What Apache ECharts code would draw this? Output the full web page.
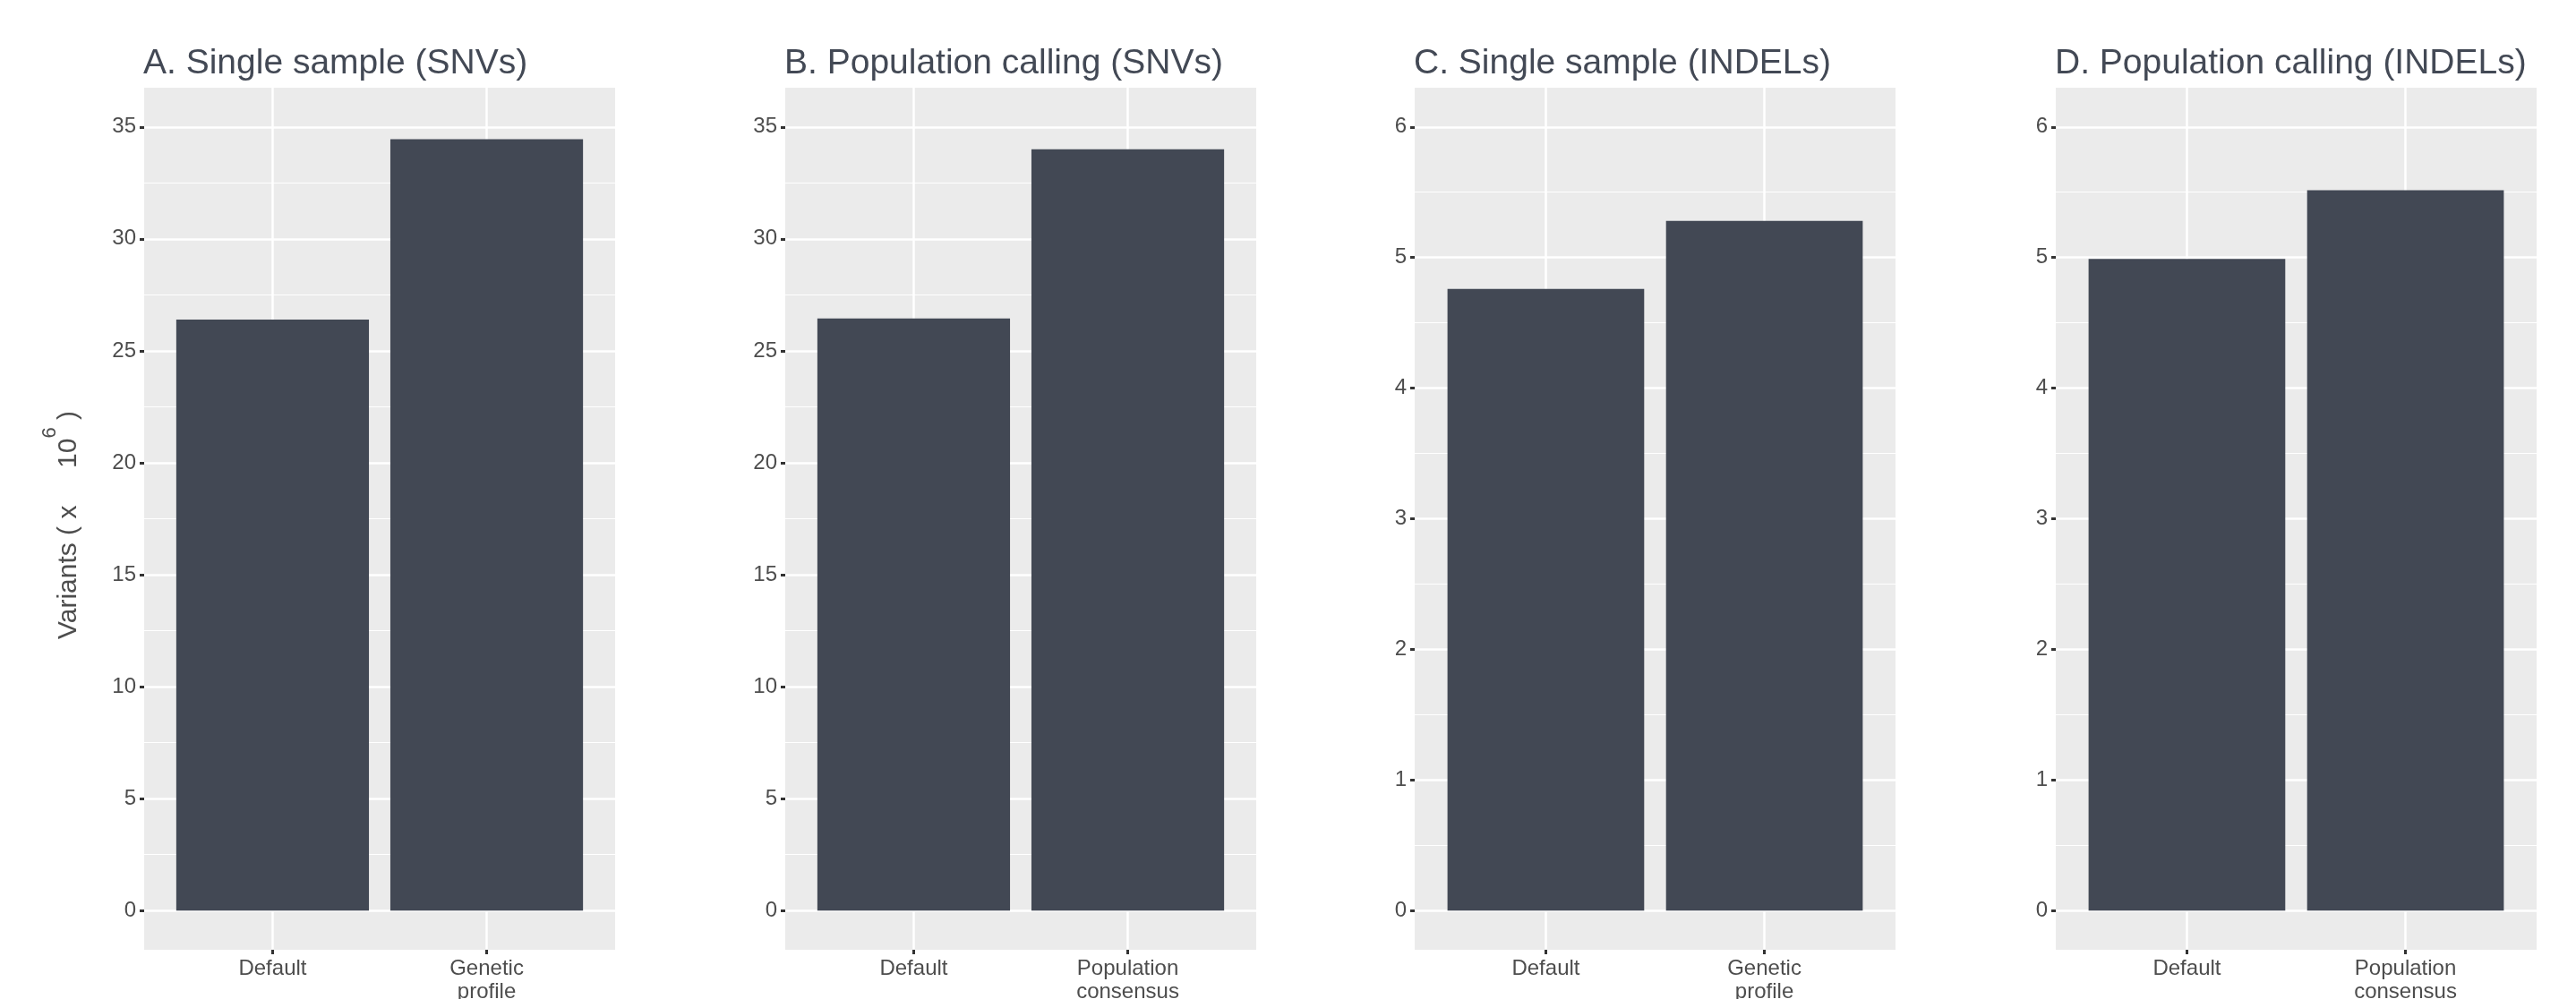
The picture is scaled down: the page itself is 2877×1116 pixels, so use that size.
<!DOCTYPE html>
<html>
<head>
<meta charset="utf-8">
<script src="https://cdn.jsdelivr.net/npm/echarts@6/dist/echarts.min.js"></script>
<style>
html, body { margin: 0; padding: 0; background: #fff; }
#chart { width: 2877px; height: 1116px; }
</style>
</head>
<body>
<div id="chart"></div>
<script>
var panelTitles = ['A. Single sample (SNVs)', 'B. Population calling (SNVs)',
                   'C. Single sample (INDELs)', 'D. Population calling (INDELs)'];
var categoriesA = ['Default', 'Genetic\nprofile'];
var categoriesB = ['Default', 'Population\nconsensus'];
var categoriesC = ['Default', 'Genetic\nprofile'];
var categoriesD = ['Default', 'Population\nconsensus'];

// variants, in millions
var valuesA = [26.4, 34.45];
var valuesB = [26.45, 34.0];
var valuesC = [4.76, 5.28];
var valuesD = [4.99, 5.515];

var snvTicks = [0, 5, 10, 15, 20, 25, 30, 35];
var snvMinorTicks = [2.5, 7.5, 12.5, 17.5, 22.5, 27.5, 32.5];
var indelTicks = [0, 1, 2, 3, 4, 5, 6];
var indelMinorTicks = [0.5, 1.5, 2.5, 3.5, 4.5, 5.5];

var font = '"Liberation Sans", Arial, Helvetica, sans-serif';
var barColor = '#424854';
var textColor = '#4D4D4D';

var panels = [
    {cats: categoriesA, values: valuesA, ticks: snvTicks, minor: snvMinorTicks, limit: 35, left: 161, width: 526},
    {cats: categoriesB, values: valuesB, ticks: snvTicks, minor: snvMinorTicks, limit: 35, left: 877, width: 526},
    {cats: categoriesC, values: valuesC, ticks: indelTicks, minor: indelMinorTicks, limit: 6, left: 1580, width: 537},
    {cats: categoriesD, values: valuesD, ticks: indelTicks, minor: indelMinorTicks, limit: 6, left: 2296, width: 537}
];
var plotTop = 98, plotHeight = 963;

var option = {
    animation: false,
    backgroundColor: '#fff',
    title: [], grid: [], xAxis: [], yAxis: [], series: []
};

panels.forEach(function(p, i) {
    option.title.push({
        text: panelTitles[i],
        left: p.left - 1,
        top: 52,
        padding: 0,
        textStyle: {fontFamily: font, fontSize: 39, fontWeight: 'normal', color: '#434955'}
    });
    option.grid.push({
        left: p.left, top: plotTop, width: p.width, height: plotHeight,
        show: true, backgroundColor: '#EBEBEB', borderWidth: 0,
        containLabel: false, outerBoundsMode: 'none'
    });

    var pos = p.cats.map(function(c, k) { return k + 1; });
    option.xAxis.push({
        type: 'value', gridIndex: i, min: 0.4, max: p.cats.length + 0.6,
        axisLine: {show: false, onZero: false},
        axisTick: {show: true, customValues: pos, length: 5, lineStyle: {color: '#333', width: 3}},
        axisLabel: {
            customValues: pos, margin: 8, fontSize: 24, lineHeight: 26,
            color: textColor, fontFamily: font,
            formatter: function(v) { return p.cats[Math.round(v) - 1]; }
        },
        splitLine: {show: true, lineStyle: {color: '#fff', width: 2.5}}
    });

    var pad = p.limit * 0.05;
    var yMain = {
        type: 'value', gridIndex: i, min: -pad, max: p.limit + pad,
        axisLine: {show: false, onZero: false},
        axisTick: {show: true, customValues: p.ticks, length: 5, lineStyle: {color: '#333', width: 3}},
        axisLabel: {customValues: p.ticks, margin: 9, fontSize: 24, color: textColor, fontFamily: font},
        splitLine: {show: true, lineStyle: {color: '#fff', width: 2.5}}
    };
    if (i === 0) {
        yMain.name = 'Variants ( x     10{sup|6} )';
        yMain.nameLocation = 'middle';
        yMain.nameRotate = 90;
        yMain.nameGap = 52;
        yMain.nameTextStyle = {
            fontFamily: font, fontSize: 30, lineHeight: 64, color: textColor,
            padding: [0, 14, 0, 0],
            rich: {sup: {fontFamily: font, fontSize: 22, lineHeight: 22, verticalAlign: 'top', color: textColor}}
        };
    }
    option.yAxis.push(yMain);
    // minor grid lines
    option.yAxis.push({
        type: 'value', gridIndex: i, min: -pad, max: p.limit + pad, position: 'left',
        axisLine: {show: false, onZero: false},
        axisTick: {show: false, customValues: p.minor},
        axisLabel: {show: false, customValues: p.minor},
        splitLine: {show: true, lineStyle: {color: '#fff', width: 1.2}}
    });

    option.series.push({
        type: 'bar', xAxisIndex: i, yAxisIndex: 2 * i,
        data: p.values.map(function(v, k) { return [k + 1, v]; }),
        barWidth: '90%',
        itemStyle: {color: barColor}
    });
});

var chart = echarts.init(document.getElementById('chart'));
chart.setOption(option);
</script>
</body>
</html>
